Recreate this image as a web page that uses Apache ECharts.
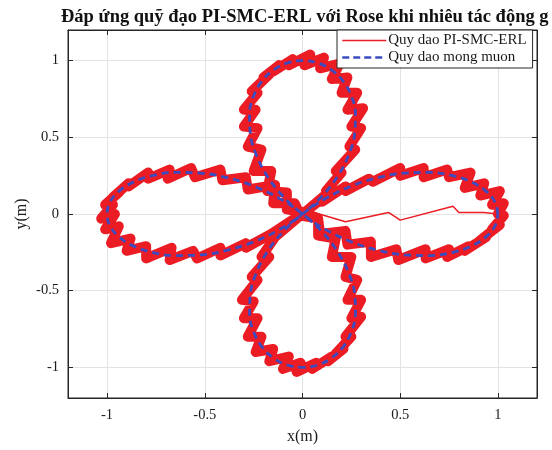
<!DOCTYPE html>
<html><head><meta charset="utf-8">
<script src="https://cdn.jsdelivr.net/npm/echarts@6/dist/echarts.min.js"></script>
<style>html,body{margin:0;padding:0;background:#fff}#c{width:552px;height:450px}</style>
</head><body><div id="c"></div>
<script>
const titleText = 'Đáp ứng quỹ đạo PI-SMC-ERL với Rose khi nhiêu tác động g';
const seriesNames = ['Quy dao PI-SMC-ERL', 'Quy dao mong muon'];
const axisRange = [-1.2, 1.2];
const tickValues = [-1, -0.5, 0, 0.5, 1];
const tickLabels = ['-1', '-0.5', '0', '0.5', '1'];

// desired rose trajectory (blue dashed)
const desRightUp = [[1,0],[0.985,0.078],[0.939,0.149],[0.866,0.208],[0.769,0.25],[0.653,0.271],[0.524,0.267],[0.387,0.237],[0.25,0.182],[0.119,0.102],[0,0]];
const desBottom = [[-0.102,-0.119],[-0.182,-0.25],[-0.237,-0.387],[-0.267,-0.524],[-0.271,-0.653],[-0.25,-0.769],[-0.208,-0.866],[-0.149,-0.939],[-0.078,-0.985],[0,-1],[0.078,-0.985],[0.149,-0.939],[0.208,-0.866],[0.25,-0.769],[0.271,-0.653],[0.267,-0.524],[0.237,-0.387],[0.182,-0.25],[0.102,-0.119],[0,0]];
const desLeft = [[-0.119,0.102],[-0.25,0.182],[-0.387,0.237],[-0.524,0.267],[-0.653,0.271],[-0.769,0.25],[-0.866,0.208],[-0.939,0.149],[-0.985,0.078],[-1,0],[-0.985,-0.078],[-0.939,-0.149],[-0.866,-0.208],[-0.769,-0.25],[-0.653,-0.271],[-0.524,-0.267],[-0.387,-0.237],[-0.25,-0.182],[-0.119,-0.102],[0,0]];
const desTop = [[0.102,0.119],[0.182,0.25],[0.237,0.387],[0.267,0.524],[0.271,0.653],[0.25,0.769],[0.208,0.866],[0.149,0.939],[0.078,0.985],[0,1],[-0.078,0.985],[-0.149,0.939],[-0.208,0.866],[-0.25,0.769],[-0.271,0.653],[-0.267,0.524],[-0.237,0.387],[-0.182,0.25],[-0.102,0.119],[0,0]];
const desRightLow = [[0.119,-0.102],[0.25,-0.182],[0.387,-0.237],[0.524,-0.267],[0.653,-0.271],[0.769,-0.25],[0.866,-0.208],[0.939,-0.149],[0.985,-0.078],[1,0]];

const actStart = [[0,0],[0.06,0.01],[0.22,-0.05],[0.44,0.01],[0.5,-0.04],[0.77,0.05],[0.8,0.01],[0.93,0.01],[1,0]];
const actRightUp = [[1,0],[1.03,0.07],[0.97,0.06],[1.01,0.15],[0.91,0.12],[0.93,0.2],[0.83,0.17],[0.86,0.27],[0.75,0.24],[0.74,0.29],[0.62,0.24],[0.62,0.3],[0.5,0.25],[0.5,0.3],[0.36,0.21],[0.34,0.23],[0.22,0.15],[0.22,0.18],[0.1,0.08],[0.08,0.08],[-0.01,-0.01]];
const actBottom = [[-0.03,-0.03],[-0.14,-0.15],[-0.13,-0.16],[-0.21,-0.28],[-0.17,-0.28],[-0.26,-0.41],[-0.23,-0.43],[-0.31,-0.56],[-0.25,-0.57],[-0.3,-0.68],[-0.23,-0.68],[-0.28,-0.8],[-0.21,-0.8],[-0.24,-0.9],[-0.15,-0.88],[-0.17,-0.96],[-0.07,-0.93],[-0.1,-1.01],[-0.01,-0.97],[-0.03,-1.03],
  [0.07,-0.97],[0.05,-1.01],[0.15,-0.93],[0.13,-0.96],[0.21,-0.88],[0.17,-0.91],[0.25,-0.8],[0.22,-0.8],[0.3,-0.67],[0.25,-0.68],[0.3,-0.56],[0.23,-0.56],[0.28,-0.43],[0.22,-0.41],[0.25,-0.28],[0.15,-0.28],[0.17,-0.16],[0.08,-0.14],[0.08,-0.03],[-0.01,-0.01]];
const actLeft = [[-0.04,0.07],[-0.15,0.07],[-0.14,0.19],[-0.28,0.16],[-0.29,0.24],[-0.41,0.22],[-0.42,0.29],[-0.55,0.24],[-0.57,0.3],[-0.69,0.23],[-0.68,0.29],[-0.79,0.23],[-0.79,0.27],[-0.89,0.18],[-0.89,0.2],[-0.97,0.11],[-0.94,0.14],[-1.01,0.06],[-0.97,0.06],[-1.03,-0.03],
  [-0.96,0],[-1.01,-0.1],[-0.94,-0.08],[-0.98,-0.19],[-0.88,-0.16],[-0.9,-0.24],[-0.8,-0.21],[-0.8,-0.29],[-0.67,-0.22],[-0.68,-0.3],[-0.56,-0.24],[-0.54,-0.29],[-0.42,-0.22],[-0.42,-0.27],[-0.29,-0.19],[-0.29,-0.22],[-0.16,-0.13],[-0.15,-0.13],[-0.03,-0.02],[0.01,0.01]];
const actTop = [[0.03,0.03],[0.14,0.15],[0.12,0.15],[0.2,0.27],[0.17,0.28],[0.27,0.42],[0.24,0.44],[0.3,0.56],[0.25,0.57],[0.31,0.69],[0.23,0.68],[0.28,0.79],[0.2,0.79],[0.23,0.89],[0.15,0.88],[0.19,0.98],[0.09,0.95],[0.11,1.02],[0.01,0.97],[0.04,1.04],
  [-0.07,0.97],[-0.05,1.01],[-0.15,0.93],[-0.12,0.97],[-0.2,0.89],[-0.17,0.91],[-0.26,0.8],[-0.23,0.79],[-0.3,0.68],[-0.24,0.68],[-0.3,0.57],[-0.23,0.56],[-0.28,0.44],[-0.21,0.42],[-0.25,0.28],[-0.16,0.28],[-0.18,0.15],[-0.08,0.14],[-0.08,0.03],[0.01,0.01]];
const actRightLow = [[0.08,-0.03],[0.09,-0.13],[0.22,-0.11],[0.23,-0.2],[0.35,-0.18],[0.35,-0.28],[0.48,-0.23],[0.49,-0.3],[0.63,-0.23],[0.63,-0.29],[0.75,-0.23],[0.74,-0.28],[0.85,-0.21],[0.83,-0.24],[0.94,-0.15],[0.91,-0.17],[1.01,-0.07],[0.97,-0.1],[1.03,-0.01],[1,0]];

const desired = [].concat(desRightUp, desBottom, desLeft, desTop, desRightLow);
const actualLoop = [].concat(actRightUp, actBottom, actLeft, actTop, actRightLow);

const FONT = 'Liberation Serif';
const RED = '#ec1c24';
const BLUE = '#3b4cc0';
const INK = '#262626';

function fmt(v) {
  const i = tickValues.findIndex(t => Math.abs(t - v) < 1e-9);
  return i >= 0 ? tickLabels[i] : '';
}

function mkAxis(dim, pos, main) {
  const a = {
    type: 'value', position: pos, min: axisRange[0], max: axisRange[1], splitNumber: 5,
    axisLine: { show: true, onZero: false, lineStyle: { color: INK, width: 1 } },
    axisTick: { show: true, inside: true, length: 5, lineStyle: { color: INK } },
    axisLabel: { show: main, formatter: fmt, showMinLabel: false, showMaxLabel: false,
      fontFamily: FONT, fontSize: 14.5, color: '#1a1a1a', margin: dim === 'x' ? 10 : 9 },
    splitLine: { show: main, lineStyle: { color: '#e3e3e3', width: 1 } }
  };
  if (main) {
    a.name = dim === 'x' ? 'x(m)' : 'y(m)';
    a.nameLocation = 'middle';
    a.nameMoveOverlap = false;
    a.nameGap = dim === 'x' ? 31 : 38;
    a.nameTextStyle = { fontFamily: FONT, fontSize: 16, color: '#1a1a1a' };
  }
  return a;
}

const chart = echarts.init(document.getElementById('c'), null, { renderer: 'canvas' });
chart.setOption({
  animation: false,
  backgroundColor: '#fff',
  title: {
    text: titleText, left: 56, top: 3,
    textStyle: { fontFamily: FONT, fontWeight: 'bold', fontSize: 18.5, color: '#111' }
  },
  grid: { left: 68, right: 15, top: 30, bottom: 52, outerBoundsMode: 'none', containLabel: false,
    show: true, borderColor: INK, borderWidth: 1, backgroundColor: 'transparent' },
  xAxis: [mkAxis('x', 'bottom', true), mkAxis('x', 'top', false)],
  yAxis: [mkAxis('y', 'left', true), mkAxis('y', 'right', false)],
  legend: {
    orient: 'vertical', left: 337, top: 30,
    backgroundColor: '#fff', borderColor: INK, borderWidth: 1, borderRadius: 0,
    padding: [3, 6, 3, 4], itemGap: 2, itemWidth: 44, itemHeight: 14,
    textStyle: { fontFamily: FONT, fontSize: 15, color: '#1a1a1a', padding: [0, 0, 0, -3] },
    data: [
      { name: seriesNames[0], itemStyle: { opacity: 0 }, lineStyle: { color: RED, width: 1.5 } },
      { name: seriesNames[1], itemStyle: { opacity: 0 }, lineStyle: { color: BLUE, width: 2.5, type: [7, 4] } }
    ]
  },
  series: [
    { name: seriesNames[0], type: 'line', data: actStart, showSymbol: false, symbol: 'none',
      lineStyle: { color: RED, width: 1.5 }, itemStyle: { color: RED }, z: 2 },
    { name: seriesNames[0], type: 'line', data: actualLoop, showSymbol: false, symbol: 'none',
      lineStyle: { color: RED, width: 10, join: 'round', cap: 'round' }, itemStyle: { color: RED }, z: 2 },
    { name: seriesNames[1], type: 'line', data: desired, showSymbol: false, symbol: 'none', smooth: 0.4,
      lineStyle: { color: BLUE, width: 2.8, type: [7, 5] }, itemStyle: { color: BLUE }, z: 3 }
  ]
});
</script>
</body></html>
